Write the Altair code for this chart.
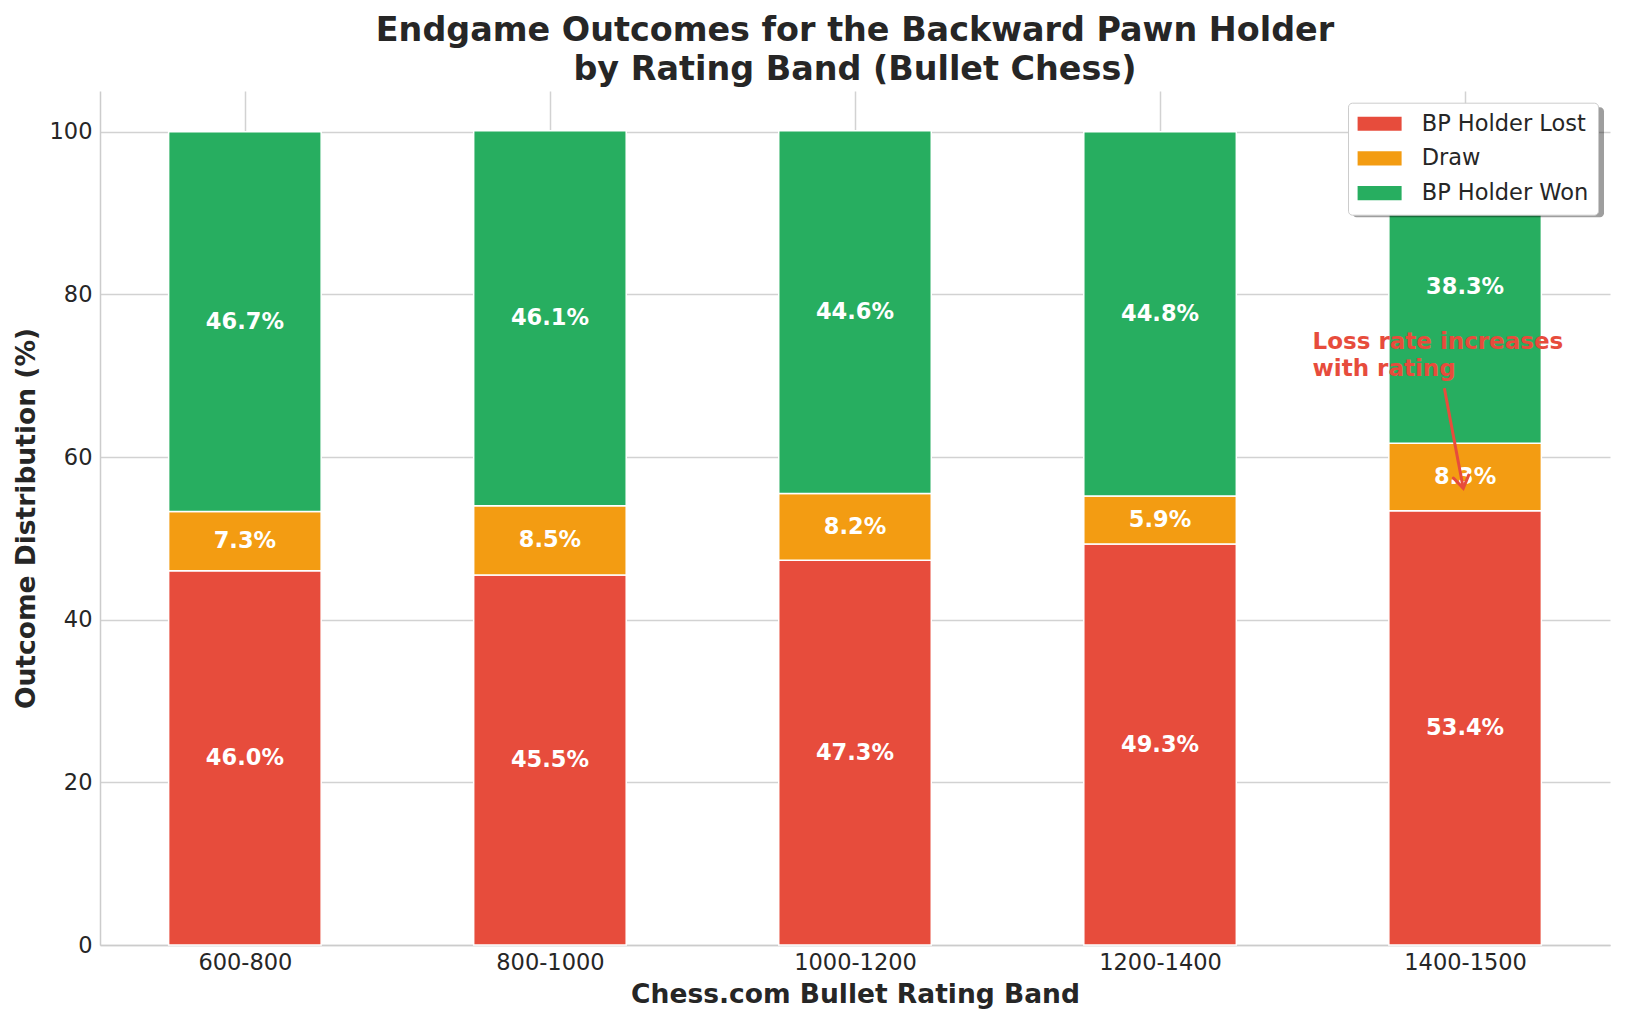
import altair as alt
import pandas as pd

bands = ["600-800", "800-1000", "1000-1200", "1200-1400", "1400-1500"]
lost = [46.0, 45.5, 47.3, 49.3, 53.4]
draw = [7.3, 8.5, 8.2, 5.9, 8.3]
won = [46.7, 46.1, 44.6, 44.8, 38.3]
outcomes = ["BP Holder Lost", "Draw", "BP Holder Won"]
colors = ["#e74c3c", "#f39c12", "#27ae60"]

ann_text = ["Loss rate increases", "with rating"]
ann_pos = [3.5, 75.45]
arrow_x = [3.932, 3.994]
arrow_y = [68.45, 56.15]

FONT = "DejaVu Sans"
TXT = "#262626"
GRID = "#d2d2d2"

W, H = 1510, 854

rows = []
for i, b in enumerate(bands):
    base = 0.0
    for k, (o, vals) in enumerate(zip(outcomes, [lost, draw, won])):
        v = vals[i]
        rows.append(dict(band=b, idx=i, outcome=o, order=k, value=v,
                         y0=base, y1=base + v, mid=base + v / 2,
                         label=f"{v:.1f}%", xl=i - 0.25, xr=i + 0.25))
        base += v
df = pd.DataFrame(rows)

label_expr = "[" + ",".join(f"'{b}'" for b in bands) + "][datum.value]"

xscale = alt.Scale(domain=[-0.475, 4.475], nice=False, zero=False)
yscale = alt.Scale(domain=[0, 105], nice=False)

x_axis = alt.Axis(values=list(range(len(bands))), labelExpr=label_expr,
                  title="Chess.com Bullet Rating Band", grid=True, ticks=False,
                  labelFontSize=22.5, labelPadding=6, titleFontSize=26.5,
                  titleFontWeight="bold", titlePadding=8)
y_axis = alt.Axis(values=[0, 20, 40, 60, 80, 100], title="Outcome Distribution (%)",
                  grid=True, ticks=False, labelFontSize=22.5, labelPadding=8,
                  titleFontSize=26.5, titleFontWeight="bold", titlePadding=9)

color = alt.Color("outcome:N", scale=alt.Scale(domain=outcomes, range=colors),
                  sort=outcomes,
                  legend=alt.Legend(title=None, orient="none", legendX=1248, legendY=11.7,
                                    labelFontSize=22.5, labelColor=TXT, labelFont=FONT,
                                    labelLimit=400,
                                    symbolType="M-1,-0.62L2.86,-0.62L2.86,0.62L-1,0.62Z",
                                    symbolSize=520, symbolStrokeWidth=0, symbolOpacity=1,
                                    rowPadding=11.7, labelOffset=41.2,
                                    padding=9.5, fillColor="white", strokeColor="#cccccc",
                                    cornerRadius=4))

base = alt.Chart(df)

bars = base.mark_bar(stroke="white", strokeWidth=1.5).encode(
    x=alt.X("xl:Q", scale=xscale, axis=x_axis),
    x2="xr:Q",
    y=alt.Y("y0:Q", scale=yscale, axis=y_axis),
    y2="y1:Q",
    color=color,
)

labels = base.mark_text(color="white", fontWeight="bold", fontSize=22.5, font=FONT).encode(
    x=alt.X("idx:Q", scale=xscale),
    y=alt.Y("mid:Q", scale=yscale),
    text="label:N",
)

shadow = alt.Chart(pd.DataFrame({"k": [0]})).mark_rect(
    color="black", opacity=0.38, cornerRadius=4).encode(
    x=alt.value(1252.5), x2=alt.value(1504), y=alt.value(16.2), y2=alt.value(126.2))

ann_df = pd.DataFrame({"x": [ann_pos[0]], "y": [ann_pos[1]], "t": ["\n".join(ann_text)]})
ann = alt.Chart(ann_df).mark_text(
    color="#e74c3c", fontWeight="bold", fontSize=23, font=FONT, align="left",
    baseline="top", lineBreak="\n", lineHeight=27).encode(
    x=alt.X("x:Q", scale=xscale), y=alt.Y("y:Q", scale=yscale), text="t:N")

arr_df = pd.DataFrame({"x": arrow_x, "y": arrow_y})
arrow_line = alt.Chart(arr_df).mark_line(color="#e74c3c", strokeWidth=3).encode(
    x=alt.X("x:Q", scale=xscale), y=alt.Y("y:Q", scale=yscale))
head_df = pd.DataFrame({"x": [arrow_x[1]], "y": [arrow_y[1]]})
arrow_head = alt.Chart(head_df).mark_point(
    shape="M-0.65,-1L0,0L0.65,-1", filled=False, color="#e74c3c", size=576, angle=349.2,
    opacity=1, strokeWidth=3, strokeCap="round", strokeJoin="miter").encode(
    x=alt.X("x:Q", scale=xscale), y=alt.Y("y:Q", scale=yscale))

chart = alt.layer(bars, labels, ann, arrow_line, arrow_head, shadow).properties(
    width=W, height=H,
    title=alt.Title(["Endgame Outcomes for the Backward Pawn Holder",
                     "by Rating Band (Bullet Chess)"],
                    fontSize=33.4, fontWeight="bold", color=TXT, font=FONT,
                    anchor="middle", lineHeight=38.5, offset=4),
    autosize=alt.AutoSizeParams(type="none"),
    padding={"left": 92, "top": 83, "right": 4, "bottom": 64},
    background="white",
).configure_view(stroke=None).configure_axis(
    domainColor="#cccccc", domainWidth=1.5, gridColor=GRID, gridWidth=1.5,
    labelColor=TXT, titleColor=TXT, labelFont=FONT, titleFont=FONT,
).configure_legend(labelFont=FONT)

chart.save("out.html", embed_options={"renderer": "svg", "actions": False})
